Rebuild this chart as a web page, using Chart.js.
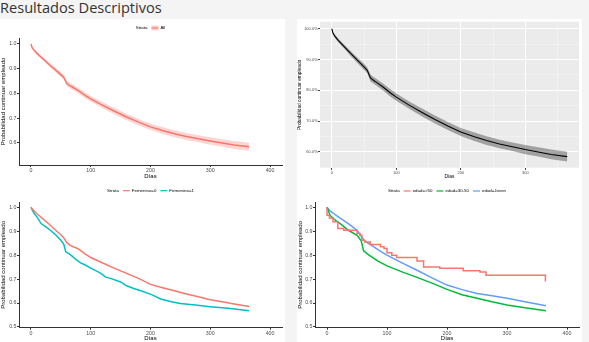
<!DOCTYPE html>
<html>
<head>
<meta charset="utf-8">
<script src="https://cdn.jsdelivr.net/npm/chart.js@4"></script>
<style>
    body {
        margin: 0;
        width: 589px;
        height: 342px;
        overflow: hidden;
        position: relative;
        background: #f4f4f4;
        font-family: "Open Sans", sans-serif;
    }
    h2 {
        position: absolute;
        left: 0;
        top: -3px;
        margin: 0;
        font-size: 14.6px;
        font-weight: 400;
        color: #333;
    }
    .column {
        position: absolute;
        top: 19px;
        width: 285px;
        height: 323px;
        background: #fff;
    }
    canvas {
        position: absolute;
    }
</style>
</head>
<body>
<h2>Resultados Descriptivos</h2>
<div class="column" style="left:0"></div>
<div class="column" style="left:297px"></div>
<canvas id="chart-all" width="285" height="161" style="left:0;top:19px"></canvas>
<canvas id="chart-all-pct" width="285" height="161" style="left:297px;top:19px"></canvas>
<canvas id="chart-sexo" width="285" height="162" style="left:0;top:180px"></canvas>
<canvas id="chart-edad" width="285" height="162" style="left:297px;top:180px"></canvas>
<script>
// survival curve, all subjects
const diasAll = [0, 2, 5, 10, 20, 30, 40, 50, 55, 60, 65, 70, 80, 90, 100, 120, 140, 160, 180, 200, 220, 240, 260, 280, 300, 320, 340, 365];
const survAll = [1.0, 0.985, 0.975, 0.962, 0.94, 0.918, 0.897, 0.876, 0.865, 0.84, 0.832, 0.825, 0.81, 0.793, 0.778, 0.752, 0.728, 0.705, 0.684, 0.665, 0.65, 0.637, 0.626, 0.617, 0.608, 0.6, 0.592, 0.585];
const upperAll = [1.0, 0.988, 0.98, 0.968, 0.947, 0.926, 0.906, 0.886, 0.875, 0.851, 0.843, 0.836, 0.821, 0.805, 0.79, 0.764, 0.741, 0.718, 0.697, 0.678, 0.664, 0.651, 0.64, 0.631, 0.623, 0.615, 0.608, 0.601];
const lowerAll = [1.0, 0.982, 0.97, 0.956, 0.933, 0.91, 0.888, 0.866, 0.855, 0.829, 0.821, 0.814, 0.799, 0.781, 0.766, 0.74, 0.715, 0.692, 0.671, 0.652, 0.636, 0.623, 0.612, 0.603, 0.593, 0.585, 0.576, 0.569];

// by sex
const diasFem0 = [0, 5, 10, 20, 30, 40, 50, 55, 60, 65, 70, 80, 90, 100, 120, 140, 160, 180, 200, 220, 240, 260, 280, 300, 320, 340, 365];
const survFem0 = [1.0, 0.985, 0.973, 0.952, 0.93, 0.907, 0.885, 0.872, 0.852, 0.842, 0.836, 0.825, 0.806, 0.79, 0.767, 0.745, 0.724, 0.703, 0.678, 0.664, 0.651, 0.638, 0.626, 0.614, 0.605, 0.596, 0.586];
const diasFem1 = [0, 3, 6, 10, 17, 25, 33, 40, 50, 55, 58, 62, 67, 75, 83, 90, 100, 110, 117, 125, 133, 150, 160, 172, 185, 202, 217, 235, 250, 275, 300, 330, 365];
const survFem1 = [1.0, 0.985, 0.972, 0.96, 0.932, 0.918, 0.903, 0.888, 0.862, 0.845, 0.815, 0.808, 0.8, 0.782, 0.768, 0.76, 0.746, 0.733, 0.724, 0.708, 0.703, 0.688, 0.672, 0.661, 0.65, 0.635, 0.617, 0.605, 0.598, 0.592, 0.585, 0.578, 0.568];

// by age group
const diasMay50 = [0, 4, 10, 18, 28, 50, 55, 58, 63, 72, 89, 95, 100, 108, 116, 150, 161, 188, 227, 255, 265, 322, 364, 365];
const survMay50 = [1.0, 0.967, 0.955, 0.94, 0.911, 0.904, 0.89, 0.883, 0.862, 0.855, 0.845, 0.835, 0.828, 0.81, 0.8, 0.79, 0.776, 0.751, 0.745, 0.735, 0.73, 0.716, 0.716, 0.693];
const dias3050 = [0, 5, 12, 22, 35, 50, 57, 61, 70, 85, 100, 125, 150, 175, 200, 225, 250, 275, 300, 330, 365];
const surv3050 = [1.0, 0.967, 0.95, 0.932, 0.905, 0.883, 0.86, 0.818, 0.8, 0.775, 0.755, 0.73, 0.707, 0.683, 0.657, 0.635, 0.62, 0.605, 0.592, 0.58, 0.568];
const diasJoven = [0, 5, 11, 20, 27, 40, 50, 57, 63, 75, 90, 100, 125, 150, 175, 200, 225, 250, 275, 300, 330, 365];
const survJoven = [1.0, 0.985, 0.974, 0.958, 0.946, 0.923, 0.904, 0.88, 0.858, 0.84, 0.815, 0.8, 0.768, 0.737, 0.705, 0.675, 0.656, 0.64, 0.63, 0.62, 0.605, 0.589];

const xTicks = [0, 100, 200, 300, 400];
const yTicks = [0.5, 0.6, 0.7, 0.8, 0.9, 1.0];
const xTicksPct = [0, 50, 100, 150, 200, 250, 300, 350];
const yTicksPct = [0.55, 0.6, 0.65, 0.7, 0.75, 0.8, 0.85, 0.9, 0.95, 1.0];

const yTitle = "Probabilidad continuar empleado";
const xTitle = "Días";

Chart.defaults.font.family = '"Liberation Sans", Arial, sans-serif';
Chart.defaults.animation = false;

function pts(days, vals) {
    return days.map((d, i) => ({ x: d, y: vals[i] }));
}

function line(days, vals, color, stepped) {
    return {
        data: pts(days, vals),
        borderColor: color,
        borderWidth: 1.5,
        pointRadius: 0,
        fill: false,
        stepped: stepped || false
    };
}

// survminer-style legend: "Strata" followed by coloured keys
const strataLegend = {
    id: "strataLegend",
    afterDraw(chart, args, opts) {
        if (!opts.items) return;
        const ctx = chart.ctx;
        const keyW = 7, gap = 2, itemGap = 4;
        ctx.save();
        ctx.font = '4.4px "Liberation Sans"';
        ctx.textBaseline = "middle";
        let total = ctx.measureText("Strata").width;
        opts.items.forEach(it => {
            total += itemGap + keyW + gap + ctx.measureText(it.text).width;
        });
        let x = (chart.chartArea.left + chart.chartArea.right) / 2 - total / 2;
        const y = opts.y;
        ctx.fillStyle = "#000";
        ctx.fillText("Strata", x, y);
        x += ctx.measureText("Strata").width + itemGap;
        opts.items.forEach(it => {
            if (it.band) {
                ctx.fillStyle = it.band;
                ctx.fillRect(x, y - 2.5, keyW, 5);
            }
            ctx.strokeStyle = it.color;
            ctx.lineWidth = 1.2;
            ctx.beginPath();
            ctx.moveTo(x, y);
            ctx.lineTo(x + keyW, y);
            ctx.stroke();
            x += keyW + gap;
            ctx.fillStyle = "#000";
            ctx.fillText(it.text, x, y);
            x += ctx.measureText(it.text).width + itemGap;
        });
        ctx.restore();
    }
};

// grey ggplot panel
const panelBg = {
    id: "panelBg",
    beforeDraw(chart, args, opts) {
        if (!opts.color) return;
        const a = chart.chartArea;
        chart.ctx.save();
        chart.ctx.fillStyle = opts.color;
        chart.ctx.fillRect(a.left, a.top, a.right - a.left, a.bottom - a.top);
        chart.ctx.restore();
    }
};

// classic theme axes (black lines, small ticks)
function classicScales(o) {
    const tickFont = { size: 5.3 };
    const titleFont = { size: 6 };
    return {
        x: {
            type: "linear",
            min: -20,
            max: 420,
            afterBuildTicks: s => { s.ticks = xTicks.map(v => ({ value: v })); },
            afterFit: s => { s.height = o.xHeight; },
            grid: { display: true, drawOnChartArea: false, tickLength: 2, color: "#333" },
            border: { display: true, color: "#333", width: 1 },
            ticks: { font: tickFont, color: "#4d4d4d", padding: 0.3, maxRotation: 0, autoSkip: false, callback: v => String(v) },
            title: { display: true, text: xTitle, font: titleFont, color: "#000", padding: 0 }
        },
        y: {
            type: "linear",
            min: o.yMin,
            max: o.yMax,
            afterBuildTicks: s => { s.ticks = yTicks.filter(v => v >= o.yMin).map(v => ({ value: v })); },
            afterFit: s => { s.width = o.yWidth; },
            grid: { display: true, drawOnChartArea: false, tickLength: 2, color: "#333" },
            border: { display: true, color: "#333", width: 1 },
            ticks: { font: tickFont, color: "#4d4d4d", padding: 0.5, autoSkip: false, callback: v => v.toFixed(1) },
            title: { display: true, text: yTitle, font: titleFont, color: "#000", padding: 0 }
        }
    };
}

function baseOptions(scales, padding, legend, bg) {
    return {
        responsive: false,
        devicePixelRatio: 1,
        layout: { padding: padding },
        scales: scales,
        plugins: {
            legend: { display: false },
            tooltip: { enabled: false },
            strataLegend: legend || {},
            panelBg: bg || {}
        }
    };
}

// top left: all subjects, red with band
new Chart(document.getElementById("chart-all"), {
    type: "line",
    data: {
        datasets: [
            line(diasAll, survAll, "#F8766D"),
            { data: pts(diasAll, upperAll), borderWidth: 0, pointRadius: 0, fill: "+1", backgroundColor: "rgba(248,118,109,0.3)" },
            { data: pts(diasAll, lowerAll), borderWidth: 0, pointRadius: 0, fill: false }
        ]
    },
    options: baseOptions(
        classicScales({ yMin: 0.511, yMax: 1.024, xHeight: 15, yWidth: 19 }),
        { left: 0, right: 3, top: 19, bottom: 0 },
        { y: 9, items: [{ text: "All", color: "#F8766D", band: "rgba(248,118,109,0.3)" }] }
    ),
    plugins: [strataLegend, panelBg]
});

// top right: same curve, grey theme with percent axis
new Chart(document.getElementById("chart-all-pct"), {
    type: "line",
    data: {
        datasets: [
            Object.assign(line(diasAll, survAll, "#000"), { borderWidth: 1.1 }),
            { data: pts(diasAll, upperAll), borderWidth: 0, pointRadius: 0, fill: "+1", backgroundColor: "rgba(70,70,70,0.45)" },
            { data: pts(diasAll, lowerAll), borderWidth: 0, pointRadius: 0, fill: false }
        ]
    },
    options: baseOptions({
        x: {
            type: "linear",
            min: -18.25,
            max: 383.25,
            afterBuildTicks: s => { s.ticks = xTicksPct.map(v => ({ value: v })); },
            afterFit: s => { s.height = 12; },
            grid: {
                color: c => c.tick && c.tick.value % 100 === 0 ? "#fff" : "rgba(255,255,255,0.55)",
                lineWidth: c => c.tick && c.tick.value % 100 === 0 ? 1 : 0.6,
                tickColor: c => c.tick && c.tick.value % 100 === 0 ? "#444" : "rgba(0,0,0,0)",
                tickLength: 2
            },
            border: { display: false },
            ticks: { font: { size: 4 }, color: "#4d4d4d", padding: 0.3, maxRotation: 0, autoSkip: false, callback: v => v % 100 === 0 ? String(v) : "" },
            title: { display: true, text: xTitle, font: { size: 4.8 }, color: "#000", padding: 0 }
        },
        y: {
            type: "linear",
            min: 0.548,
            max: 1.0226,
            afterBuildTicks: s => { s.ticks = yTicksPct.map(v => ({ value: v })); },
            afterFit: s => { s.width = 23; },
            grid: {
                color: c => c.tick && Math.round(c.tick.value * 100) % 10 === 0 ? "#fff" : "rgba(255,255,255,0.55)",
                lineWidth: c => c.tick && Math.round(c.tick.value * 100) % 10 === 0 ? 1 : 0.6,
                tickColor: c => c.tick && Math.round(c.tick.value * 100) % 10 === 0 ? "#444" : "rgba(0,0,0,0)",
                tickLength: 2
            },
            border: { display: false },
            ticks: { font: { size: 4 }, color: "#4d4d4d", padding: 0.3, autoSkip: false, callback: v => Math.round(v * 100) % 10 === 0 ? (v * 100).toFixed(1) + "%" : "" },
            title: { display: true, text: yTitle, font: { size: 4.8 }, color: "#000", padding: 0 }
        }
    }, { left: 0, right: 3, top: 2, bottom: 0 }, null, { color: "#EBEBEB" }),
    plugins: [strataLegend, panelBg]
});

// bottom left: by sex
new Chart(document.getElementById("chart-sexo"), {
    type: "line",
    data: {
        datasets: [
            line(diasFem0, survFem0, "#F8766D"),
            line(diasFem1, survFem1, "#00BFC4")
        ]
    },
    options: baseOptions(
        classicScales({ yMin: 0.497, yMax: 1.022, xHeight: 14.3, yWidth: 19 }),
        { left: 0, right: 3, top: 22, bottom: 0 },
        { y: 10.7, items: [{ text: "Femenino=0", color: "#F8766D" }, { text: "Femenino=1", color: "#00BFC4" }] }
    ),
    plugins: [strataLegend, panelBg]
});

// bottom right: by age group
new Chart(document.getElementById("chart-edad"), {
    type: "line",
    data: {
        datasets: [
            line(diasMay50, survMay50, "#F8766D", "after"),
            line(dias3050, surv3050, "#00BA38"),
            line(diasJoven, survJoven, "#619CFF")
        ]
    },
    options: baseOptions(
        classicScales({ yMin: 0.497, yMax: 1.022, xHeight: 14.3, yWidth: 18 }),
        { left: 0, right: 3, top: 22, bottom: 0 },
        { y: 11, items: [{ text: "edad=>50", color: "#F8766D" }, { text: "edad=30-50", color: "#00BA38" }, { text: "edad=Joven", color: "#619CFF" }] }
    ),
    plugins: [strataLegend, panelBg]
});
</script>
</body>
</html>
